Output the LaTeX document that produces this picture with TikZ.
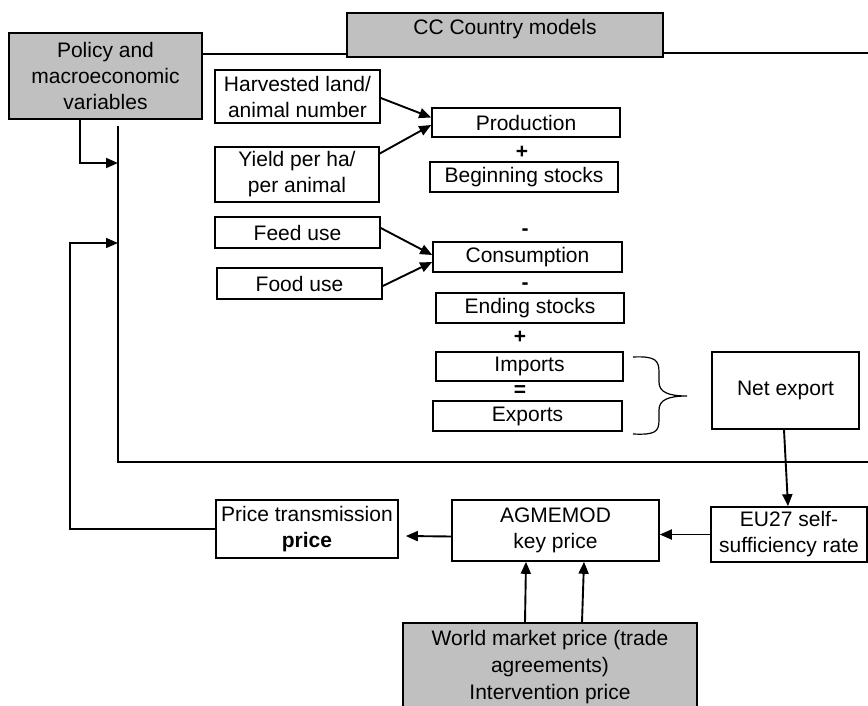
\documentclass[tikz,border=0pt]{standalone}
\usepackage{fontspec}
\setmainfont{Liberation Sans}
\usetikzlibrary{arrows.meta, positioning}
\definecolor{boxgray}{HTML}{C0C0C0}
\tikzstyle{block} = [rectangle, draw=black, line width=1.6pt, fill=white, inner sep=0pt, align=center, text centered, font=\fontsize{21pt}{26pt}\selectfont]
\tikzstyle{grayblock} = [block, fill=boxgray]
\tikzstyle{sign} = [inner sep=0pt, font=\fontsize{21pt}{26pt}\selectfont\bfseries]
\tikzstyle{arrow} = [line width=1.9pt, -{Triangle[length=12pt,width=10pt]}]
\tikzstyle{line} = [line width=1.5pt]

\begin{document}
\begin{tikzpicture}[x=1pt, y=-1pt]
        \clip (0,0) rectangle (868,706);
        % top row
        \node (policy) [grayblock, minimum width=193pt, minimum height=86pt] at (105.5,76) {Policy and\\macroeconomic\\variables};
        \node (ccmodels) [grayblock, minimum width=316pt, minimum height=44pt, text depth=17pt] at (505,35) {CC Country models};

        % supply side
        \node (harvested) [block, minimum width=165pt, minimum height=53pt] at (297.5,96.5) {Harvested land/\\animal number};
        \node (yield) [block, minimum width=164pt, minimum height=55pt] at (297,174.5) {Yield per ha/\\per animal};
        \node (production) [block, minimum width=188pt, minimum height=29pt] at (526,122.5) {Production};
        \node (plusA) [sign] at (522,152) {+};
        \node (beginning) [block, minimum width=188pt, minimum height=30pt] at (524,177) {Beginning stocks};

        % demand side
        \node (feed) [block, minimum width=165pt, minimum height=31pt] at (297.5,232.5) {Feed use};
        \node (food) [block, minimum width=165pt, minimum height=31pt] at (299.5,283.5) {Food use};
        \node (minusA) [sign] at (525,232) {-};
        \node (consumption) [block, minimum width=189pt, minimum height=30pt] at (527.5,257) {Consumption};
        \node (minusB) [sign] at (525,286) {-};
        \node (ending) [block, minimum width=188pt, minimum height=30pt] at (530,308) {Ending stocks};
        \node (plusB) [sign] at (520,337) {+};
        \node (imports) [block, minimum width=187pt, minimum height=29pt] at (529.5,366.5) {Imports};
        \node (equal) [sign] at (520,391) {=};
        \node (exports) [block, minimum width=189pt, minimum height=30pt] at (527.5,416) {Exports};
        \node (netexport) [block, minimum width=147pt, minimum height=77pt] at (785.5,390.5) {Net export};

        % price block
        \node (eurate) [block, minimum width=156pt, minimum height=55pt] at (789,534.5) {EU27 self-\\sufficiency rate};
        \node (agmemod) [block, minimum width=207pt, minimum height=61pt] at (555.5,530.5) {AGMEMOD\\key price};
        \node (pricetrans) [block, minimum width=182pt, minimum height=58pt] at (307,529) {Price transmission\\\textbf{price}};
        \node (worldprice) [grayblock, minimum width=294pt, minimum height=89pt, font=\fontsize{21pt}{27pt}\selectfont] at (550,667.5) {World market price (trade\\agreements)\\Intervention price};

        % free ends
        \coordinate (rightend) at (868,53);
        \coordinate (bustop) at (118,126);
        \coordinate (buscorner) at (118,462);
        \coordinate (busend) at (868,462);
        \coordinate (inA) at (118,163);
        \coordinate (inB) at (118,243);
        \coordinate (fbcorner) at (70,243);
        \coordinate (bracetop) at (633,357);
        \coordinate (bracetip) at (687,396);
        \coordinate (bracebot) at (633,434);

        \draw [line] ([yshift=22pt]policy.east) -- ([yshift=-19pt]ccmodels.west);
        \draw [line] ([yshift=-18pt]ccmodels.east) -- (rightend);
        \draw [line] (bustop) -- (buscorner) -- (busend);
        \draw [arrow] ([xshift=-25.5pt]policy.south) |- (inA);
        \draw [arrow, line width=1.5pt] (pricetrans.west) -| (fbcorner) -- (inB);

        \draw [arrow] ([yshift=-1.5pt]harvested.east) -- ([yshift=5pt]production.west);
        \draw [arrow] ([yshift=21pt]yield.east) -- ([yshift=-2.5pt]production.west);
        \draw [arrow] ([yshift=4.5pt]feed.east) -- ([yshift=2pt]consumption.west);
        \draw [arrow] ([yshift=-2.5pt]food.east) -- ([yshift=-5pt]consumption.west);

        \draw [line, line width=1.2pt] (bracetop) .. controls (655,356) and (659,360) .. (659,372) -- (659,382) .. controls (659,392) and (668,396) .. (bracetip) .. controls (668,396) and (659,400) .. (659,410) -- (659,420) .. controls (659,432) and (655,435) .. (bracebot);

        \draw [arrow] ([xshift=-1.5pt]netexport.south) -- ([xshift=-1pt]eurate.north);
        \draw [arrow] (eurate.west) -- (agmemod.east |- eurate.west);
        \draw [arrow] ([yshift=-6pt]agmemod.west) -- ([xshift=7pt,yshift=-7pt]pricetrans.east);
        \draw [arrow] ([xshift=-25pt]worldprice.north) -- ([xshift=-29.5pt]agmemod.south);
        \draw [arrow] ([xshift=32pt]worldprice.north) -- ([xshift=28.5pt]agmemod.south);

        \end{tikzpicture}
\end{document}
